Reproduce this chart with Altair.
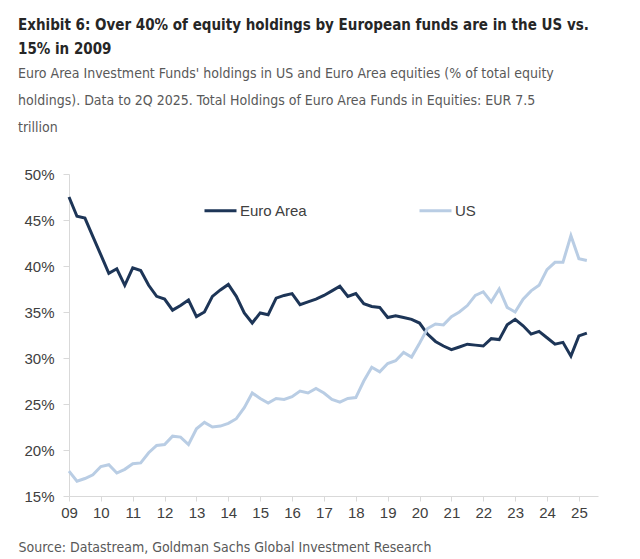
import altair as alt
import pandas as pd

series_names = ["Euro Area", "US"]

euro_area = [
    47.5, 45.4, 45.2, 43.2, 41.2, 39.2, 39.7, 37.9, 39.8, 39.5, 37.9, 36.7,
    36.4, 35.2, 35.7, 36.3, 34.5, 35.0, 36.7, 37.4, 38.0, 36.7, 34.9, 33.8,
    34.9, 34.7, 36.5, 36.8, 37.0, 35.8, 36.1, 36.4, 36.8, 37.3, 37.8, 36.7,
    37.0, 35.9, 35.6, 35.5, 34.4, 34.6, 34.4, 34.2, 33.8, 32.6, 31.8, 31.3,
    30.9, 31.2, 31.5, 31.4, 31.3, 32.1, 32.0, 33.6, 34.2, 33.5, 32.6, 32.9,
    32.2, 31.5, 31.7, 30.2, 32.4, 32.7,
]

us = [
    17.7, 16.6, 16.9, 17.3, 18.2, 18.4, 17.5, 17.9, 18.5, 18.6, 19.7, 20.5,
    20.6, 21.5, 21.4, 20.6, 22.3, 23.0, 22.5, 22.6, 22.9, 23.4, 24.6, 26.2,
    25.6, 25.1, 25.6, 25.5, 25.8, 26.4, 26.2, 26.7, 26.2, 25.5, 25.2, 25.6,
    25.7, 27.5, 29.0, 28.5, 29.4, 29.7, 30.6, 30.1, 31.6, 33.2, 33.7, 33.6,
    34.5, 35.0, 35.7, 36.8, 37.2, 36.1, 37.5, 35.5, 35.0, 36.4, 37.3, 37.9,
    39.6, 40.4, 40.4, 43.3, 40.8, 40.6,
]

year_ticks = list(range(2009, 2026))
pct_ticks = [15, 20, 25, 30, 35, 40, 45, 50]

title_lines = [
    "Exhibit 6: Over 40% of equity holdings by European funds are in the US vs.",
    "15% in 2009",
]
subtitle_lines = [
    "Euro Area Investment Funds' holdings in US and Euro Area equities (% of total equity",
    "holdings). Data to 2Q 2025. Total Holdings of Euro Area Funds in Equities: EUR 7.5",
    "trillion",
]
source_text = "Source: Datastream, Goldman Sachs Global Investment Research"

n = len(euro_area)
quarters = [2009 + i / 4 for i in range(n)]
df = pd.DataFrame({
    "t": quarters + quarters,
    "v": euro_area + us,
    "s": [series_names[0]] * n + [series_names[1]] * n,
})

narrow = "Liberation Sans Narrow, DejaVu Sans Condensed, Roboto Condensed, Liberation Sans, sans-serif"
arial = "Liberation Sans, Arial, sans-serif"

chart = alt.Chart(df).mark_line(strokeWidth=3).encode(
    x=alt.X(
        "t:Q",
        scale=alt.Scale(domain=[2009, 2025.6], nice=False, zero=False),
        axis=alt.Axis(
            values=year_ticks,
            labelExpr="substring(toString(datum.value), 2)",
            grid=False,
            domainColor="#d9d9d9",
            tickColor="#d9d9d9",
            tickSize=5,
            labelPadding=4,
            labelFont=arial,
            labelFontSize=15,
            labelColor="#404040",
            labelFlush=False,
            labelOverlap=False,
            title=source_text,
            titleX=-51,
            titleY=55,
            titleAlign="left",
            titleBaseline="alphabetic",
            titleFont=narrow,
            titleFontSize=14,
            titleFontWeight="normal",
            titleColor="#595959",
        ),
    ),
    y=alt.Y(
        "v:Q",
        scale=alt.Scale(domain=[15, 50], nice=False, zero=False),
        axis=alt.Axis(
            values=pct_ticks,
            labelExpr="datum.value + '%'",
            grid=False,
            domainColor="#d9d9d9",
            tickColor="#d9d9d9",
            tickSize=6,
            labelPadding=9,
            labelFont=arial,
            labelFontSize=15,
            labelColor="#404040",
            title=None,
        ),
    ),
    color=alt.Color(
        "s:N",
        scale=alt.Scale(domain=series_names, range=["#1d3557", "#b9cde4"]),
        legend=alt.Legend(
            orient="none",
            legendX=134,
            legendY=19,
            direction="horizontal",
            title=None,
            symbolType="stroke",
            symbolSize=1024,
            symbolStrokeWidth=3,
            labelFont=arial,
            labelFontSize=15,
            labelColor="#404040",
            labelOffset=2,
            columnPadding=105,
        ),
    ),
).properties(
    width=529,
    height=322,
    padding={"left": 10, "top": 10, "right": 5, "bottom": 5},
    title=alt.TitleParams(
        text=title_lines,
        subtitle=subtitle_lines,
        anchor="start",
        frame="bounds",
        font=narrow,
        fontSize=15,
        fontWeight="bold",
        color="#262626",
        lineHeight=24,
        subtitleFont=narrow,
        subtitleFontSize=14,
        subtitleColor="#595959",
        subtitleLineHeight=27,
        subtitlePadding=10,
        offset=32,
    ),
).configure_view(stroke=None)

chart.save("out.html", embed_options={"renderer": "svg", "actions": False})
